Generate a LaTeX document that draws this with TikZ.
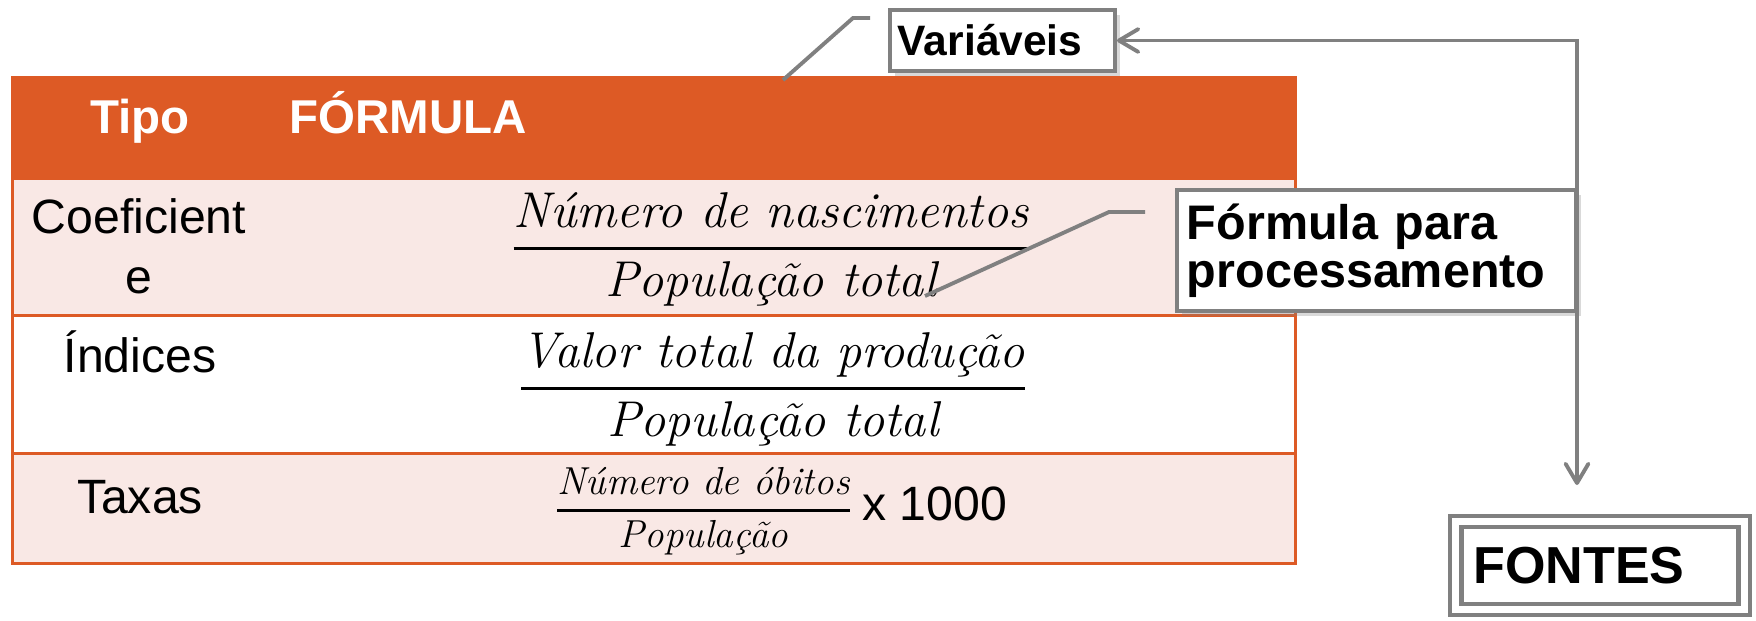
\documentclass[tikz,border=0pt]{standalone}
\usepackage{fontspec}
\setsansfont{Liberation Sans}
\usepackage{amsmath}
\usetikzlibrary{arrows.meta, positioning, shadows}
\definecolor{taborange}{RGB}{221, 90, 37}
\definecolor{tabpink}{RGB}{249, 232, 229}
\definecolor{callgray}{RGB}{128, 128, 128}
\newcommand{\thickfrac}[2]{\genfrac{}{}{0.8pt}{0}{#1}{#2}}

\begin{document}
\begin{tikzpicture}[x=0.01cm, y=-0.01cm,
  tabrow/.style={draw=taborange, line width=0.85pt, minimum width=12.82cm, inner sep=0pt, anchor=north west},
  headtext/.style={font=\sffamily\bfseries\fontsize{13.5}{16}\selectfont, text=white, inner sep=0pt},
  celltext/.style={font=\sffamily\fontsize{13.7}{17}\selectfont, inner sep=0pt},
  fractext/.style={font=\fontsize{14.3}{17}\selectfont, inner sep=0pt},
  callbox/.style={draw=callgray, line width=1.1pt, fill=white, align=left, text=black,
    drop shadow={shadow xshift=1.5pt, shadow yshift=-1.5pt, opacity=0.3}},
  callline/.style={draw=callgray, line width=1.1pt},
  conn/.style={draw=callgray, line width=1.1pt,
    {Straight Barb[round, length=5.5pt, width=6.5pt]}-{Straight Barb[round, length=5.5pt, width=6.5pt]}}
]
  \useasboundingbox (0,0) rectangle (1756,620);

  % Table rows
  \node[tabrow, fill=taborange, minimum height=1.01cm] (hdr) at (11,76) {};
  \node[tabrow, fill=tabpink, minimum height=1.37cm] (rowa) at (11,177) {};
  \node[tabrow, fill=white, minimum height=1.38cm] (rowb) at (11,314) {};
  \node[tabrow, fill=tabpink, minimum height=1.10cm] (rowc) at (11,452) {};

  % Header
  \node[headtext, anchor=base] (tipo) at (140,133) {Tipo};
  \node[headtext, anchor=base west] (formula) at (289,133) {FÓRMULA};

  % Types
  \node[celltext, align=center] (coef) at (139,246) {Coeficient\\e};
  \node[celltext, anchor=base] (indices) at (140,372) {Índices};
  \node[celltext, anchor=base] (taxas) at (140,513) {Taxas};

  % Formulas
  \node[fractext] (fraca) at (771,249) {$\thickfrac{\textit{Número de nascimentos}}{\textit{População total}}$};
  \node[fractext] (fracb) at (773,389) {$\thickfrac{\textit{Valor total da produção}}{\textit{População total}}$};
  \node[fractext] (fracc) at (780,511) {{\fontsize{11.1}{13}\selectfont$\thickfrac{\textit{Número de óbitos}}{\textit{População}}$}\,{\sffamily\fontsize{13.7}{17}\selectfont x 1000}};

  % Variables callout
  \node[callbox, font=\sffamily\bfseries\fontsize{12.1}{14}\selectfont, text width=2.09cm, inner xsep=0.08cm,
    minimum height=0.61cm] (var) at (1002.5,40.5) {Variáveis};
  \coordinate (vara) at (870,18);
  \coordinate (varb) at (853,18);
  \coordinate (varc) at (783,80);
  \draw[callline] (vara) -- (varb) -- (varc);

  % Loop to sources
  \coordinate (fontip) at (1577,485);
  \draw[conn] (var.east) -| (fontip);

  % Processing callout
  \node[callbox, font=\sffamily\bfseries\fontsize{13.8}{13.7}\selectfont, text width=3.79cm, inner xsep=0.1cm,
    minimum height=1.21cm] (proc) at (1376.5,250.5) {Fórmula para\\processamento};
  \coordinate (proca) at (1145,212);
  \coordinate (procb) at (1109,212);
  \coordinate (procc) at (925,296);
  \draw[callline] (proca) -- (procb) -- (procc);

  % Sources
  \node[callbox, double=white, double distance=2pt, line width=1.2pt,
    font=\sffamily\bfseries\fontsize{14.8}{17}\selectfont, text width=2.53cm, inner xsep=0.175cm,
    minimum height=0.88cm] (fontes) at (1600,565.5) {FONTES};
\end{tikzpicture}
\end{document}
